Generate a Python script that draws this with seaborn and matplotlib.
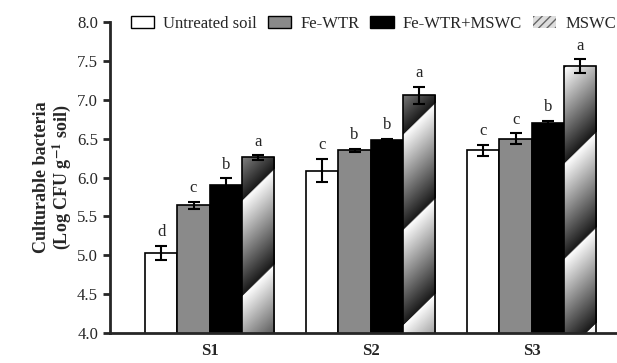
import numpy as np
import pandas as pd
import matplotlib
matplotlib.use("Agg")
import matplotlib.pyplot as plt
from matplotlib.patches import Patch
import seaborn as sns

# data
sites = ["S1", "S2", "S3"]
treatments = ["Untreated soil", "Fe-WTR", "Fe-WTR+MSWC", "MSWC"]
untreated = [5.03, 6.09, 6.35]
fe_wtr = [5.64, 6.35, 6.50]
fe_wtr_mswc = [5.90, 6.48, 6.70]
mswc = [6.26, 7.06, 7.43]
err_untreated = [0.09, 0.15, 0.07]
err_fe_wtr = [0.05, 0.02, 0.07]
err_fe_wtr_mswc = [0.09, 0.02, 0.03]
err_mswc = [0.03, 0.11, 0.09]
letters_untreated = ["d", "c", "c"]
letters_fe_wtr = ["c", "b", "c"]
letters_fe_wtr_mswc = ["b", "b", "b"]
letters_mswc = ["a", "a", "a"]

values = [untreated, fe_wtr, fe_wtr_mswc, mswc]
errors = [err_untreated, err_fe_wtr, err_fe_wtr_mswc, err_mswc]
letters = [letters_untreated, letters_fe_wtr, letters_fe_wtr_mswc, letters_mswc]

rows = []
for t, vals in zip(treatments, values):
    for s, v in zip(sites, vals):
        rows.append({"Site": s, "Treatment": t, "Value": v})
df = pd.DataFrame(rows)

sns.set_style("ticks")
plt.rcParams["font.family"] = ["Liberation Serif", "DejaVu Serif"]
plt.rcParams["mathtext.fontset"] = "stix"

colors = ["white", "#8a8a8a", "black", "#bbbbbb"]

fig = plt.figure(figsize=(6.17, 3.63), dpi=100)
ax = fig.add_axes([0.178, 0.083, 0.822, 0.856])

sns.barplot(data=df, x="Site", y="Value", hue="Treatment", order=sites,
            hue_order=treatments, palette=colors, width=0.8, errorbar=None,
            edgecolor="black", linewidth=1.2, legend=False, ax=ax)

ax.set_ylim(4.0, 8.0)
ax.set_xlim(-0.62, 2.53)

# error bars and letters
for cont, errs, labs in zip(ax.containers, errors, letters):
    for bar, e, lab in zip(cont.patches, errs, labs):
        xc = bar.get_x() + bar.get_width() / 2
        top = bar.get_y() + bar.get_height()
        ax.errorbar(xc, top, yerr=e, color="black", capsize=4, capthick=1.5,
                    elinewidth=1.5, zorder=5)
        ax.text(xc, top + e + 0.07, lab, ha="center", va="bottom", fontsize=12)

# diagonal gradient fill for MSWC bars
fig.canvas.draw()
bb = ax.get_window_extent()
W, H = int(bb.width), int(bb.height)
X, Y = np.meshgrid(np.arange(W), np.arange(H))
period = 95.0
saw = ((Y - X) / period) % 1.0
saw = 0.1 + 0.9 * saw
for bar in ax.containers[3].patches:
    im = ax.imshow(saw, cmap="gray", vmin=0, vmax=1, origin="lower",
                   extent=(*ax.get_xlim(), *ax.get_ylim()), aspect="auto",
                   zorder=bar.get_zorder() + 0.1, interpolation="bilinear")
    im.set_clip_path(bar)
    bar.set_facecolor("none")
    bar.set_zorder(bar.get_zorder() + 0.2)
ax.set_xlim(-0.62, 2.53)
ax.set_ylim(4.0, 8.0)

sns.despine(ax=ax)
for sp in ["left", "bottom"]:
    ax.spines[sp].set_linewidth(2)
ax.tick_params(axis="y", width=2, length=5, labelsize=12)
ax.tick_params(axis="x", length=0, labelsize=12, pad=7)
ax.set_yticks(np.arange(4.0, 8.01, 0.5))
ax.set_yticklabels([f"{v:.1f}" for v in np.arange(4.0, 8.01, 0.5)])
for lab in ax.get_xticklabels():
    lab.set_fontweight("bold")
ax.set_xlabel("")
ax.set_ylabel("Culturable bacteria\n(Log CFU g$^{\\mathbf{-1}}$ soil)", fontsize=13,
              fontweight="bold", labelpad=3, linespacing=1.0)

handles = [Patch(facecolor="white", edgecolor="black", linewidth=1),
           Patch(facecolor="#8a8a8a", edgecolor="black", linewidth=1),
           Patch(facecolor="black", edgecolor="black", linewidth=1),
           Patch(facecolor="#dddddd", edgecolor="#666666", hatch="////", linewidth=0)]
ax.legend(handles, treatments, loc="center", bbox_to_anchor=(0.52, 0.995), ncol=4,
          frameon=False, fontsize=12, handlelength=1.4, handleheight=0.8,
          columnspacing=0.65, handletextpad=0.55, borderaxespad=0, borderpad=0)

fig.savefig("out.png", dpi=100)
